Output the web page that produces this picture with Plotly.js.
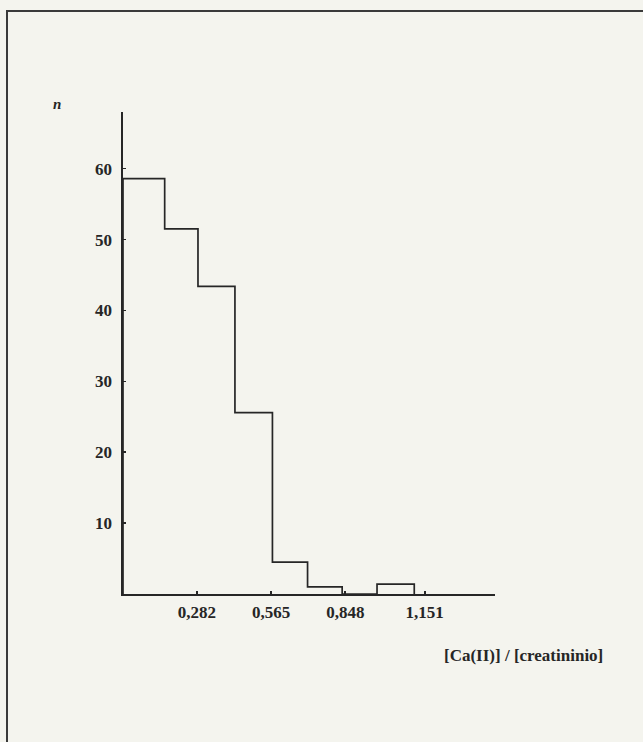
<!DOCTYPE html>
<html>
<head>
<meta charset="utf-8">
<script src="https://cdn.plot.ly/plotly-3.0.1.min.js"></script>
<style>
  html, body { margin: 0; padding: 0; background: #f4f4ee; }
  #frame { position: absolute; left: 6px; top: 10px; width: 637px; height: 732px;
           border-left: 2px solid #3a3a3a; border-top: 2px solid #3a3a3a; }
  #chart { position: absolute; left: 0; top: 0; width: 643px; height: 742px; }
</style>
</head>
<body>
<div id="frame"></div>
<div id="chart"></div>
<script>
// Bin edges of the histogram ([Ca(II)] / [creatininio]) and counts per bin
const binEdges = [0, 0.159, 0.286, 0.427, 0.570, 0.704, 0.836, 0.969, 1.111];
const counts   = [58.6, 51.5, 43.4, 25.6, 4.5, 1.0, 0, 1.4];

const xTickVals = [0.282, 0.565, 0.848, 1.151];
const xTickText = ["0,282", "0,565", "0,848", "1,151"];
const yTickVals = [10, 20, 30, 40, 50, 60];
const yTickText = ["10", "20", "30", "40", "50", "60"];

// step outline of the histogram
const stepX = [binEdges[0]].concat(binEdges);
const stepY = [0].concat(counts).concat([0]);

const ink = "#262626";
const serif = "Liberation Serif, Times New Roman, serif";

const trace = {
  x: stepX, y: stepY, type: "scatter", mode: "lines",
  line: { shape: "hv", color: ink, width: 1.7 },
  hoverinfo: "skip", showlegend: false
};

const layout = {
  width: 643, height: 742,
  paper_bgcolor: "rgba(0,0,0,0)", plot_bgcolor: "rgba(0,0,0,0)",
  margin: { l: 123, r: 148, t: 112, b: 148 },
  showlegend: false,
  font: { family: serif, color: ink, size: 14 },
  xaxis: {
    range: [0, 1.419], showgrid: false, zeroline: false,
    showline: true, linecolor: ink, linewidth: 1.7,
    ticks: "inside", ticklen: 3, tickwidth: 2, tickcolor: ink,
    tickvals: xTickVals, ticktext: xTickText,
    tickfont: { family: serif, size: 17, color: ink, weight: "bold" },
    ticklabelstandoff: 2
  },
  yaxis: {
    range: [0, 68], showgrid: false, zeroline: false,
    showline: true, linecolor: ink, linewidth: 1.7,
    ticks: "inside", ticklen: 3, tickwidth: 1.5, tickcolor: ink,
    tickvals: yTickVals, ticktext: yTickText,
    tickfont: { family: serif, size: 17, color: ink, weight: "bold" },
    ticklabelstandoff: 6
  },
  annotations: [
    { text: "<i>n</i>", xref: "paper", yref: "paper", x: -0.178, y: 1.017,
      xanchor: "center", yanchor: "middle", showarrow: false,
      font: { family: serif, size: 15, color: ink, weight: "bold" } },
    { text: "[Ca(II)] / [creatininio]", xref: "paper", yref: "paper", x: 1.296, y: -0.127,
      xanchor: "right", yanchor: "middle", showarrow: false,
      font: { family: serif, size: 17, color: ink, weight: "bold" } }
  ]
};

Plotly.newPlot("chart", [trace], layout, { displayModeBar: false, staticPlot: true });
</script>
</body>
</html>
